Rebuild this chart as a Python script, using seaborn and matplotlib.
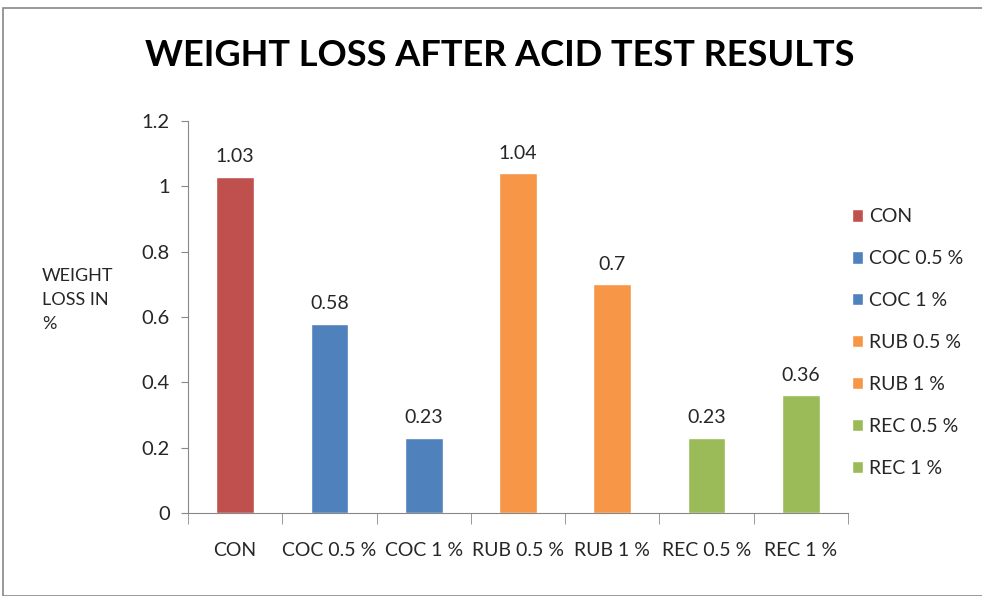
import matplotlib
matplotlib.use("Agg")
import matplotlib.pyplot as plt
import seaborn as sns
import pandas as pd
from matplotlib.patches import Rectangle

categories = ["CON", "COC 0.5 %", "COC 1 %", "RUB 0.5 %", "RUB 1 %", "REC 0.5 %", "REC 1 %"]
weight_loss = [1.03, 0.58, 0.23, 1.04, 0.70, 0.23, 0.36]
bar_colors = ["#C0504D", "#4F81BD", "#4F81BD", "#F79646", "#F79646", "#9BBB59", "#9BBB59"]
yticks = [0, 0.2, 0.4, 0.6, 0.8, 1, 1.2]

sns.set_style("white")
plt.rcParams["font.family"] = ["Lato", "DejaVu Sans"]

df = pd.DataFrame({"group": categories, "loss": weight_loss})

fig = plt.figure(figsize=(9.82, 5.96), dpi=100)
ax = fig.add_axes([188 / 982, 1 - 513 / 596, (848 - 188) / 982, (513 - 121) / 596])

sns.barplot(data=df, x="group", y="loss", hue="group", order=categories, hue_order=categories,
            palette=dict(zip(categories, bar_colors)), dodge=False, width=0.4,
            saturation=1, legend=True, ax=ax)

for p, v in zip(ax.patches, weight_loss):
    ax.text(p.get_x() + p.get_width() / 2, v + 0.035, f"{v:g}", ha="center", va="bottom", fontsize=14)

ax.set_ylim(0, 1.2)
ax.set_xlim(-0.5, len(categories) - 0.5)
ax.set_yticks(yticks)
ax.set_yticklabels([f"{t:g}" for t in yticks], fontsize=14.5)
ax.set_xticks(range(len(categories)))
ax.set_xticklabels(categories, fontsize=14)
ax.tick_params(axis="x", length=0, pad=21)
ax.tick_params(axis="y", length=5, color="#888888", left=True, pad=8)
# boundary ticks along the category axis
ax.set_xticks([i - 0.5 for i in range(len(categories) + 1)], minor=True)
ax.tick_params(axis="x", which="minor", length=8, color="#888888", bottom=True)
ax.set_xlabel("")
ax.set_ylabel("")
for s in ["top", "right"]:
    ax.spines[s].set_visible(False)
for s in ["left", "bottom"]:
    ax.spines[s].set_color("#888888")

sns.move_legend(ax, "center left", bbox_to_anchor=(0.985, 0.435), frameon=False, title=None,
                fontsize=14, handlelength=0.6, handleheight=0.6, handletextpad=0.3,
                labelspacing=1.28, borderaxespad=0.3)

fig.text(500 / 982, 1 - 55 / 596, "WEIGHT LOSS AFTER ACID TEST RESULTS", ha="center", va="center",
         fontsize=26, fontweight="bold", color="black")
fig.text(42 / 982, 1 - 300 / 596, "WEIGHT\nLOSS IN\n%", ha="left", va="center", fontsize=13,
         linespacing=1.6)

fig.patches.append(Rectangle((3 / 982, 0), 1, 1 - 8 / 596, transform=fig.transFigure,
                             fill=False, edgecolor="#888888", linewidth=1.2))

fig.savefig("out.png", dpi=100)
